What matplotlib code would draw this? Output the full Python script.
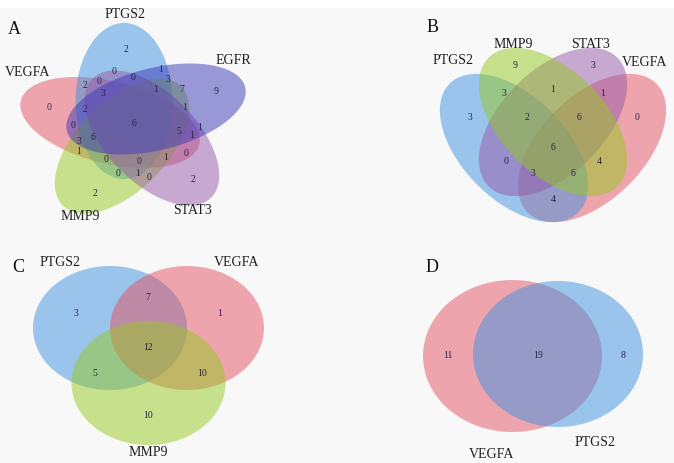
import numpy as np
import matplotlib
matplotlib.use("Agg")
import matplotlib.pyplot as plt
from matplotlib.patches import Polygon, Rectangle

# ---------------- data ----------------
# Panel A: five-set Venn
a_sets = ["VEGFA", "PTGS2", "MMP9", "STAT3", "EGFR"]
a_counts = [2, 0, 1, 0, 3, 2, 0, 3, 1, 7, 9, 0, 2, 1, 0, 6, 5, 1, 1,
            3, 6, 1, 0, 0, 1, 0, 0, 1, 0, 2, 2]
# Panel B: four-set Venn
b_sets = ["PTGS2", "MMP9", "STAT3", "VEGFA"]
b_counts = [9, 3, 3, 1, 1, 3, 2, 6, 0, 6, 0, 3, 6, 4, 4]
# Panel C: three-set Venn
c_sets = ["PTGS2", "VEGFA", "MMP9"]
c_counts = [3, 7, 1, 12, 5, 10, 10]
# Panel D: two-set Venn
d_sets = ["VEGFA", "PTGS2"]
d_counts = [11, 19, 8]
panel_letters = ["A", "B", "C", "D"]

# ---------------- layout ----------------
W, H = 674, 463
fig = plt.figure(figsize=(W / 100, H / 100), dpi=100)
fig.patch.set_facecolor("#f8f8f8")
ax = fig.add_axes([0, 0, 1, 1])
ax.set_xlim(0, W)
ax.set_ylim(H, 0)
ax.axis("off")
ax.add_patch(Rectangle((0, 0), W, 8, facecolor="white", edgecolor="none", zorder=0))

SERIF = "Liberation Serif"
col = {"VEGFA": "#e55161", "PTGS2": "#3d91e1", "MMP9": "#95c921",
       "STAT3": "#9559a9", "EGFR": "#3a3ab8"}
TXT = "#2a2440"


def ellipse(cx, cy, a, b, theta, sx=1.0, sy=1.0, color="k", alpha=0.5):
    t = np.linspace(0, 2 * np.pi, 240)
    th = np.deg2rad(theta)
    x = a * np.cos(t) * np.cos(th) - b * np.sin(t) * np.sin(th)
    y = a * np.cos(t) * np.sin(th) + b * np.sin(t) * np.cos(th)
    pts = np.column_stack([cx + sx * x, cy - sy * y])
    ax.add_patch(Polygon(pts, closed=True, facecolor=color, edgecolor="none",
                         alpha=alpha, zorder=2))


def count_labels(counts, pos, size=7):
    for v, (x, y) in zip(counts, pos):
        ax.text(x, y, str(v), ha="center", va="center", fontsize=size,
                family=SERIF, color=TXT, zorder=5)


def set_labels(names, pos, size=10):
    for n, (x, y) in zip(names, pos):
        ax.text(x, y, n, ha="center", va="center", fontsize=size,
                family=SERIF, color="#1e1e1e", zorder=5)


# Panel A ellipses (unit ellipse a=1, b=0.52 scaled to pixels)
a_geom = {"VEGFA": (110, 122.5, -18), "PTGS2": (124, 101, 90),
          "MMP9": (122, 146, 54), "STAT3": (152, 138, -54),
          "EGFR": (156, 109, 18)}
for name in a_sets:
    cx, cy, th = a_geom[name]
    ellipse(cx, cy, 1.0, 0.52, th, sx=93, sy=78, color=col[name], alpha=0.5)
a_pos = [(126, 49), (114, 72), (161, 70), (133, 78), (168, 80), (85, 86),
         (99, 81), (103, 94), (156, 89), (182, 89), (216, 91), (49, 107),
         (85, 109), (185, 108), (73, 126), (134, 123), (179, 132), (200, 127),
         (192, 136), (79, 141), (93, 138), (79, 152), (106, 159), (139, 162),
         (166, 158), (186, 153), (118, 173), (138, 173), (149, 177),
         (193, 180), (95, 193)]
count_labels(a_counts, a_pos)
set_labels(a_sets, [(28, 73), (125, 15), (80, 217), (192, 211), (233, 60)])

# Panel B ellipses (draw order: VEGFA, PTGS2, STAT3, MMP9 on top)
b_geom = {"PTGS2": (514, 148, -45), "MMP9": (553, 122, -45),
          "STAT3": (553, 122, 45), "VEGFA": (592, 148, 45)}
for name in ["VEGFA", "PTGS2", "STAT3", "MMP9"]:
    cx, cy, th = b_geom[name]
    ellipse(cx, cy, 91, 52, th, color=col[name], alpha=0.5)
b_pos = [(515, 66), (593, 66), (504, 94), (553, 89), (603, 94), (470, 118),
         (527, 118), (579, 118), (637, 118), (553, 148), (506, 162),
         (533, 173), (573, 173), (599, 162), (553, 199)]
count_labels(b_counts, b_pos)
set_labels(b_sets, [(453, 61), (513, 45), (590, 45), (645, 62)])

# Panel C circles (drawn squashed)
c_geom = {"PTGS2": (110, 328), "VEGFA": (187, 328), "MMP9": (148.5, 383)}
for name in c_sets:
    cx, cy = c_geom[name]
    ellipse(cx, cy, 77, 62, 0, color=col[name], alpha=0.5)
c_pos = [(76, 313), (148, 297), (220, 313), (148, 348), (95, 373),
         (202, 373), (148, 416)]
count_labels(c_counts, c_pos)
set_labels(c_sets, [(60, 262), (237, 262), (148, 453)])

# Panel D
d_geom = {"VEGFA": (512.5, 356, 89.5, 76), "PTGS2": (558, 354, 85, 73)}
for name in d_sets:
    cx, cy, rx, ry = d_geom[name]
    ellipse(cx, cy, rx, ry, 0, color=col[name], alpha=0.5)
count_labels(d_counts, [(448, 356), (538, 356), (623, 356)])
set_labels(d_sets, [(492, 455), (595, 442)])

# Panel letters
for L, (x, y) in zip(panel_letters, [(14, 29), (433, 27), (18, 268), (432, 268)]):
    ax.text(x, y, L, ha="center", va="center", fontsize=13, family=SERIF,
            color="#111111", zorder=5)

fig.savefig("out.png", dpi=100, facecolor=fig.get_facecolor())
